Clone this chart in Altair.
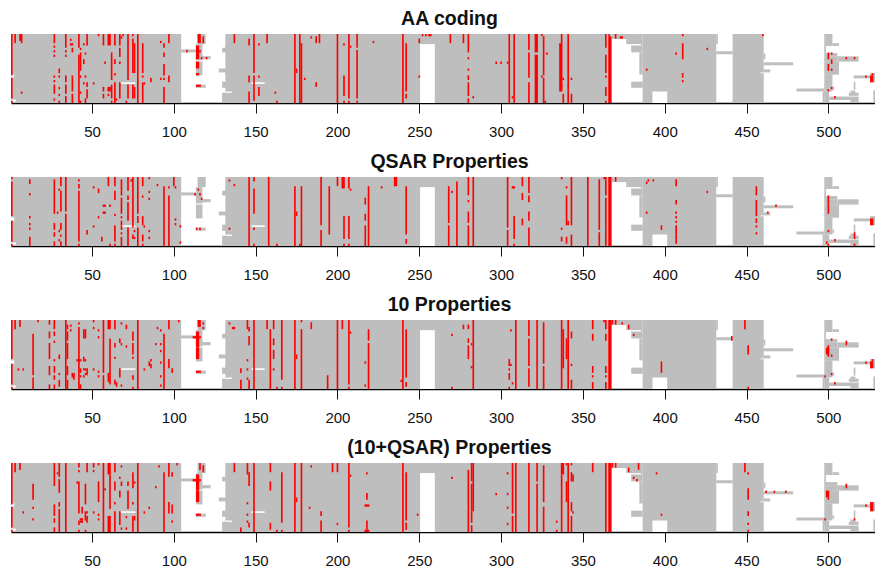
import altair as alt
import pandas as pd

TITLES = ["AA coding", "QSAR Properties", "10 Properties", "(10+QSAR) Properties"]
TICKS = [50, 100, 150, 200, 250, 300, 350, 400, 450, 500]
GREY = "#bebebe"
RED = "#ff0000"

# every entry: (first column, last column, (row from, row to), ...)
COVERED = [
    (1,104,(0,30)), (105,113,(6.7,8)), (115,119,(0,4.4)), (114,117,(4.4,18)), (114,122,(9.6,11)),
    (114,119,(22,23.4)), (130,132,(6,8)), (132,132,(5,6)), (128,132,(15,16.7)), (130,132,(20.7,23.4)),
    (132,367,(0,30)), (130,132,(25.5,30)),
    (387,431,(0,30)), (368,386,(0,2.2)), (377,386,(2.2,4.4)), (386,386,(4.4,5)), (380,386,(5,8)),
    (385,386,(8,17.6)), (380,386,(20.7,23.4)), (432,432,(0,4.4)), (432,441,(7.5,8.8)),
    (442,460,(0,30)), (461,461,(8.5,11)), (461,478,(12.3,13.6)), (461,464,(15.4,16.7)),
    (498,498,(0,27.2)), (499,502,(0,5.2)), (503,506,(4,5.2)), (499,505,(8.3,9.8)), (506,518,(9.7,12)),
    (499,505,(9.7,12)), (499,506,(11.9,17.7)), (499,502,(17.6,25)), (503,503,(22.8,24.3)), (481,497,(23.7,25)),
    (497,497,(25,30)), (498,500,(25,30)), (501,518,(27.2,28.7)), (514,518,(28.6,30)),
    (516,516,(20.7,24.2)), (514,516,(24.6,25.6)), (513,518,(25.5,26.9)), (516,525,(18,19.3)),
    (526,528,(17,21)), (529,533,(0,24.7)), (528,533,(24.6,30)),
]
MISSING = [
    (1,2,(17.6,19)), (1,3,(28.5,29.4)), (68,76,(21,21.7)), (148,155,(21,21.7)), (114,117,(11.5,12)),
    (132,135,(25,25.6)), (251,259,(4.4,30)), (393,401,(25,30)), (459,460,(16.7,17.1)),
]

AA = [
    (1,1,(0,18),(19,28),(29,30)), (3,3,(0,4)), (6,7,(0,3)), (7,7,(3,4),(25,26)),
    (27,27,(0,4),(5,6),(7,8),(9,10),(18,19),(20,21),(22,26),(28,29)),
    (30,30,(15,17),(18,19),(23,24),(26,27),(29,30)),
    (34,34,(0,6),(7,8),(9,10),(18,21),(22,26),(27,30)), (37,37,(2,3)), (37,38,(4,5)),
    (38,38,(6,8),(18,19),(19,25),(26,30)), (42,42,(0,6),(9,30)), (43,43,(6,7),(8,16),(18,19),(25,26),(29,30)),
    (45,45,(4,5),(11,13),(21,22)), (46,46,(8,9),(18,19),(28,30)), (47,47,(0,5),(21,23),(24,28)),
    (51,51,(21,22)), (54,54,(0,1)), (57,57,(0,5),(23,25),(26,28)), (58,58,(12,13)),
    (60,61,(0,5),(23,25)), (60,60,(26,27)), (62,62,(8,20),(22,28),(29,30)),
    (64,64,(0,5),(11,13),(17,18),(21,30)), (65,65,(28,29)), (67,67,(0,5),(6,10),(12,13),(21,28)),
    (68,68,(1,2)), (69,69,(0,1)), (71,71,(29,30)), (72,72,(0,20),(22,28)), (75,75,(0,1),(2,17),(22,28)),
    (76,76,(4,17),(23,25),(25,28)), (78,78,(0,30)), (81,81,(4,17),(18,19),(21,30)), (82,82,(21,22)),
    (86,86,(19,21)), (92,92,(3,4),(19,20)), (94,94,(4,6),(8,10),(13,18),(19,20),(23,30)), (97,97,(0,4),(18,21)),
    (108,108,(7,8)), (115,116,(0,4)), (118,118,(1,4)), (114,115,(5,11),(12,15),(17,18),(22,23)),
    (116,116,(7,8),(22,23)), (117,117,(10,11)), (120,120,(10,11)), (137,137,(0,4)),
    (146,146,(2,5),(18,21),(25,30)), (149,149,(0,17),(18,29)), (152,152,(4,5),(18,19),(23,27)),
    (157,157,(0,4)), (162,162,(25,26)), (163,163,(29,30)), (174,174,(0,30)), (175,175,(15,17)),
    (177,177,(0,30)), (178,178,(4,30)), (180,180,(19,20)), (184,184,(1,2)), (187,187,(1,4),(21,23)),
    (189,189,(0,4)), (200,200,(0,30)), (204,204,(4,5),(18,27),(29,30)), (207,207,(0,28),(29,30)),
    (208,208,(5,6)), (212,212,(0,6),(7,28),(29,30)), (222,222,(3,4)), (240,240,(0,30)),
    (242,242,(4,25),(26,28)), (250,250,(2,4),(18,19)), (252,252,(0,1)), (254,254,(0,1)), (256,257,(0,1)),
    (269,269,(0,4)), (277,277,(0,4)), (280,280,(0,8),(10,11),(15,16),(18,20),(21,27),(28,30)), (283,283,(27,28)),
    (297,297,(12,13)), (300,300,(12,13)), (304,304,(12,13)), (305,305,(0,30)), (307,307,(27,28)), (308,308,(0,30)),
    (317,317,(0,7),(8,19),(21,30)), (321,322,(0,8),(9,30)), (325,325,(0,1),(18,19)), (326,326,(1,18),(19,30)),
    (327,327,(29,30)), (328,328,(8,9)), (336,337,(4,25)), (337,337,(0,4),(22,23)), (338,338,(19,20),(26,30)),
    (341,341,(0,30)), (343,343,(19,20),(26,30)), (364,364,(0,6),(9,17),(18,19),(23,27),(29,30)),
    (366,367,(1,30)), (366,366,(0,1)), (370,370,(0,2)), (373,374,(1,2)), (389,389,(15,16)), (407,407,(8,9)),
    (411,411,(0,1),(4,11),(17,18),(18,19),(20,21)), (426,426,(6,7)), (460,460,(0,1)),
    (500,500,(8,11),(13,16),(24,25)), (502,502,(8,9),(11,13),(15,16),(23,24)), (504,504,(27,28)),
    (511,511,(10,11)), (516,516,(10,11)), (523,523,(18,19)), (526,527,(18,21)), (527,527,(17,18)),
    (533,533,(2,3),(22,23),(28,30)),
]

QSAR = [
    (1,1,(0,1),(2,17),(19,28),(29,30)), (12,12,(1,3),(7,8),(17,18),(20,21),(22,23),(26,30)),
    (27,27,(1,16),(20,23),(24,26),(28,29),(29,30)), (29,29,(15,16)), (30,30,(5,6),(23,24),(27,28)),
    (31,31,(0,4),(6,10),(10,15),(20,23),(25,26),(28,30)), (34,34,(0,15),(16,30)),
    (42,42,(1,2),(3,5),(6,28),(29,30)), (47,47,(23,25)), (51,51,(4,5),(21,22)), (54,54,(5,7),(17,18)),
    (56,56,(26,28)), (57,58,(12,13),(15,16)), (60,60,(0,4)), (61,61,(12,13),(29,30)),
    (64,64,(0,4),(6,10),(16,17),(21,28),(29,30)), (68,68,(1,6),(6,8),(9,16),(17,18),(19,21),(21,23),(24,25),(26,30)),
    (72,72,(0,6),(8,10),(11,19),(22,30)), (74,74,(1,2)), (75,75,(0,22),(25,27)), (76,76,(23,24),(26,27)),
    (78,78,(0,16),(17,20),(22,30)), (81,81,(0,4),(8,9),(17,21),(25,28),(29,30)), (82,82,(21,22)),
    (85,85,(0,1),(6,7),(9,10),(23,24),(26,27)), (90,90,(3,4)), (94,94,(4,30)), (97,97,(4,5),(8,30)),
    (100,100,(0,4)), (101,101,(4,5),(18,19),(20,21)), (104,104,(21,22),(28,29)),
    (113,113,(7,8)), (115,115,(5,6)), (116,116,(7,8),(22,23)), (117,117,(9,10)), (114,114,(22,23)),
    (134,134,(1,2),(22,23)), (137,137,(3,4)), (146,146,(0,30)), (149,149,(0,2),(5,16),(22,23),(29,30)),
    (158,158,(0,30)), (163,163,(29,30)), (174,174,(4,30)), (175,175,(15,17)), (177,177,(29,30)),
    (178,178,(4,30)), (190,190,(0,21),(23,30)), (195,195,(4,25)), (200,200,(0,4)), (203,204,(0,5)),
    (204,204,(17,27),(29,30)), (207,207,(0,5),(17,27),(29,30)), (208,208,(5,6)),
    (217,217,(9,12),(16,19),(21,30)), (219,219,(4,30)), (227,227,(4,5)), (235,236,(0,4)),
    (242,242,(4,25),(27,29)), (268,268,(4,20),(21,30)), (270,270,(6,7)), (273,273,(2,30)),
    (280,280,(0,8),(10,11),(15,20),(21,30)), (283,283,(0,30)), (304,304,(0,22),(23,30)), (307,308,(4,5)),
    (308,308,(17,27),(29,30)), (313,313,(0,4),(7,10),(18,21)), (317,317,(0,7),(8,11),(15,19),(22,30)),
    (337,337,(0,1),(22,23),(26,28)), (340,340,(4,5),(8,21),(26,29)), (341,341,(19,21)),
    (343,343,(0,21),(25,30)), (353,353,(0,30)), (360,360,(1,23),(24,30)), (363,364,(0,1)),
    (364,364,(1,8),(9,30)), (366,367,(0,30)), (370,370,(0,2)), (389,389,(2,3),(15,16)), (390,390,(1,2)),
    (393,393,(1,2)), (398,398,(21,23)), (407,407,(1,4),(10,12),(15,16),(17,18),(19,20),(21,25),(25,29)),
    (426,426,(6,7)), (456,456,(4,8),(10,17),(18,20),(21,22),(24,25)), (463,463,(15,16)), (468,468,(12,13)),
    (499,499,(28,29)), (500,500,(8,16),(23,24),(29,30)), (504,504,(27,28)), (516,516,(24,27),(29,30)),
    (526,527,(18,21)), (530,530,(4,7),(23,25)), (531,531,(2,3)), (533,533,(2,3),(22,23)),
]

TEN = [
    (1,1,(0,17),(19,28),(29,30)), (3,3,(0,4)), (5,5,(21,22)), (6,6,(0,3)), (8,8,(21,22)), (14,14,(6,24),(25,30)),
    (17,17,(0,1)), (24,24,(0,2),(5,8),(10,17),(20,24),(28,30)),
    (27,27,(0,4),(5,7),(9,10),(17,18),(20,23),(24,26),(28,29),(29,30)), (30,30,(15,17),(23,24),(26,29)),
    (34,34,(0,30)), (35,35,(2,4),(5,9),(10,17),(20,24),(26,30)), (37,37,(2,3),(4,5)), (38,38,(23,25)), (39,39,(23,26)),
    (42,42,(1,2),(3,30)), (41,43,(17,18)), (43,43,(21,23),(24,25),(28,30)), (45,45,(4,8),(16,18),(21,22),(24,25)),
    (46,46,(4,8),(17,18),(21,22),(23,24)), (47,47,(21,24)), (51,51,(0,1),(3,4),(21,22)),
    (54,54,(4,5),(7,8),(22,23),(24,25)), (57,57,(0,23),(24,30)), (60,61,(0,4)), (60,60,(23,27)), (61,61,(8,28)),
    (64,64,(0,4),(10,12),(16,17),(26,28)), (65,65,(27,29)), (67,67,(8,10),(21,25)), (68,68,(1,2),(10,11),(28,29)),
    (71,71,(2,4),(11,12)), (75,75,(5,9),(10,15),(16,17),(24,26),(29,30)), (78,78,(0,30)), (82,82,(21,22)),
    (85,85,(18,20)), (86,86,(17,18),(19,21)), (89,89,(10,11)), (90,90,(3,4)),
    (92,92,(4,5),(10,11),(13,14),(18,19),(24,25),(28,29)), (94,94,(6,30)), (97,97,(0,4),(17,21)), (99,99,(21,23)),
    (103,103,(0,1)), (112,114,(7,8)), (114,115,(5,12),(12,17),(22,23)), (115,116,(0,3)), (116,116,(7,8),(22,23)),
    (118,118,(1,2),(3,4)), (134,134,(1,2)), (136,137,(3,4)), (141,141,(21,23),(26,30)),
    (145,145,(0,4),(17,18),(21,22),(25,26)), (146,146,(3,5),(7,11),(26,30)), (149,149,(0,30)), (157,157,(0,4)),
    (159,159,(4,30)), (161,161,(0,4),(8,11),(13,17),(21,22)), (163,163,(29,30)), (166,166,(0,26),(29,30)),
    (174,174,(0,30)), (175,175,(15,17)), (178,178,(0,1),(4,30)), (184,184,(1,4)), (194,194,(24,30)), (200,200,(0,30)),
    (203,203,(0,4)), (207,207,(0,28),(29,30)), (208,208,(5,6)), (217,217,(18,19),(28,29)), (219,219,(4,9),(10,30)),
    (239,239,(26,27)), (240,240,(0,30)), (242,242,(4,25),(27,29)), (270,270,(6,7),(29,30)), (277,277,(2,4)),
    (280,280,(2,4),(8,10),(11,16),(16,17)), (282,282,(10,11),(20,21)), (283,283,(0,30)),
    (305,305,(17,20),(21,22),(23,26),(29,30)), (306,306,(4,5),(19,20)), (307,307,(27,28)), (309,309,(0,30)),
    (317,317,(0,7),(8,20),(21,29)), (322,322,(0,30)), (326,326,(1,19),(20,30)), (337,337,(0,30)), (338,338,(4,21)),
    (340,340,(8,17)), (341,341,(0,30)), (343,343,(5,8),(19,20),(26,30)), (356,356,(0,4),(6,9),(20,23),(24,25),(27,30)),
    (363,364,(0,1)), (364,364,(1,4),(6,9),(20,23),(24,25),(27,30)), (366,367,(0,30)), (368,368,(0,2)), (370,370,(0,2)),
    (374,374,(1,2)), (378,378,(2,4)), (381,381,(6,7)), (398,398,(18,23)), (441,441,(7,9)), (449,449,(0,4)),
    (451,451,(11,15),(29,30)), (498,498,(24,25)), (499,500,(12,15)), (500,500,(11,16)), (502,502,(8,9),(15,16),(23,24)),
    (504,504,(27,28)), (511,511,(9,11)), (523,523,(18,19)), (526,527,(18,21)), (527,527,(17,18)),
]

BOTH = [
    (1,1,(0,18),(19,28),(29,30)), (3,3,(0,4)), (6,6,(0,3)), (8,8,(21,22)), (14,14,(9,16),(19,20),(24,25)),
    (27,27,(0,10),(18,23),(24,26),(28,30)), (29,29,(4,5)), (30,30,(0,6),(7,13),(17,19),(20,30)), (34,34,(0,30)),
    (42,42,(0,2),(3,4),(8,22),(25,27),(29,30)), (41,41,(8,9)), (43,44,(24,25),(25,26)), (44,44,(19,22)),
    (46,46,(9,18),(21,25),(29,30)), (47,47,(0,4),(21,22),(23,26)), (51,51,(0,2),(3,4),(21,22)),
    (54,54,(0,1),(8,17),(22,23),(24,25)), (57,57,(0,30)), (58,58,(11,12)), (60,61,(0,5),(23,30)), (61,61,(5,20)),
    (64,64,(0,4),(8,12),(17,18),(21,30)), (67,67,(6,7),(12,15),(21,27)), (68,68,(1,2),(8,10),(28,29)),
    (71,71,(23,24),(28,29)), (72,72,(8,10),(12,20)), (75,75,(4,11),(17,18),(23,30)), (76,76,(8,9),(23,25)),
    (78,78,(0,30)), (82,82,(21,22)), (85,85,(19,20)), (89,89,(10,11)), (91,91,(1,2)), (94,94,(4,30)),
    (97,97,(0,6),(17,22)), (99,99,(4,6),(18,22),(25,26)), (102,102,(0,1)), (112,113,(7,8)),
    (114,115,(5,12),(12,17),(22,23)), (116,116,(0,3),(7,8),(22,23)), (118,118,(1,4)), (137,137,(0,4)), (141,141,(28,30)),
    (145,145,(0,5),(17,18),(22,23),(25,26)), (146,146,(4,10),(26,28)), (149,149,(0,30)), (159,159,(0,4),(8,12),(26,29)),
    (163,163,(29,30)), (166,166,(4,26),(29,30)), (174,174,(0,30)), (175,175,(15,17)), (178,178,(0,30)), (183,183,(19,20)),
    (184,184,(1,2)), (190,190,(21,23),(25,30)), (197,197,(0,4)), (200,200,(0,4),(26,27)), (207,207,(0,28),(29,30)),
    (208,208,(5,6)), (218,218,(4,5),(13,16),(25,29)), (217,219,(18,19),(29,30)), (240,240,(0,30)), (242,242,(4,25),(26,29)),
    (249,249,(22,23)), (270,270,(6,7)), (280,280,(3,30)), (282,282,(0,8),(9,21),(21,26),(27,30)), (283,283,(0,21)),
    (297,297,(13,14)), (304,304,(4,5),(13,14),(19,20),(26,27)), (307,307,(0,22),(23,30)), (309,309,(0,30)), (317,317,(0,30)),
    (322,322,(0,8),(9,30)), (326,326,(1,17),(19,30)), (334,334,(25,26),(29,30)), (337,337,(5,30)), (337,338,(0,5)),
    (340,340,(0,1),(8,17)), (341,341,(0,30)), (343,343,(0,1),(4,8),(17,21),(23,30)), (344,344,(5,8),(21,22)),
    (356,356,(0,4)), (364,364,(0,30)), (366,367,(0,30)), (368,368,(0,2)), (370,370,(0,2)), (378,378,(2,4)), (381,381,(6,7)),
    (383,383,(7,8)), (384,384,(0,3)), (395,395,(4,5)), (398,398,(22,23)), (449,449,(0,4)),
    (451,451,(4,5),(11,16),(21,23),(26,27),(29,30)), (462,462,(12,13)), (467,467,(12,13)), (474,474,(12,13)),
    (498,498,(24,25)), (499,500,(12,15)), (500,500,(15,16)), (511,511,(9,11)), (516,516,(24,25)), (523,523,(18,19)),
    (526,527,(17,21)), (529,529,(24,25)),
]


def frame(entries):
    rows = []
    for c1, c2, *spans in entries:
        for r1, r2 in spans:
            rows.append({"c0": c1 - 0.5, "c1": c2 + 0.5, "r0": r1, "r1": r2})
    return pd.DataFrame(rows)


x_scale = alt.Scale(domain=[0.5, 528.5], nice=False, zero=False)
y_scale = alt.Scale(domain=[0, 30], reverse=True, nice=False, zero=False)
x_axis = alt.Axis(values=TICKS, title=None, grid=False, labelFontSize=15, labelFont="Liberation Sans",
                  labelColor="#111111", tickSize=10, tickColor="#111111", tickWidth=1,
                  domainColor="#000000", domainWidth=1.6, labelPadding=11, labelFlush=False,
                  labelOverlap=False)


def layer(entries, colour):
    return alt.Chart(frame(entries)).mark_rect(color=colour, strokeWidth=0, opacity=1, clip=True).encode(
        x=alt.X("c0:Q", scale=x_scale, axis=x_axis),
        x2="c1:Q",
        y=alt.Y("r0:Q", scale=y_scale, axis=None),
        y2="r1:Q",
    )


def panel(name, reds):
    return alt.layer(
        layer(COVERED, GREY), layer(MISSING, "#ffffff"), layer(reds, RED),
    ).properties(
        width=864, height=69,
        title=alt.TitleParams(name, font="Liberation Sans", fontSize=19.5, fontWeight="bold", color="#111111",
                              offset=5, anchor="middle", dx=6.5),
    )


chart = alt.vconcat(
    panel(TITLES[0], AA), panel(TITLES[1], QSAR), panel(TITLES[2], TEN), panel(TITLES[3], BOTH), spacing=12,
).properties(padding={"left": 3, "top": 0, "right": 0, "bottom": 0}).configure_view(stroke=None)

chart.save("out.html", embed_options={"renderer": "svg", "actions": False})
